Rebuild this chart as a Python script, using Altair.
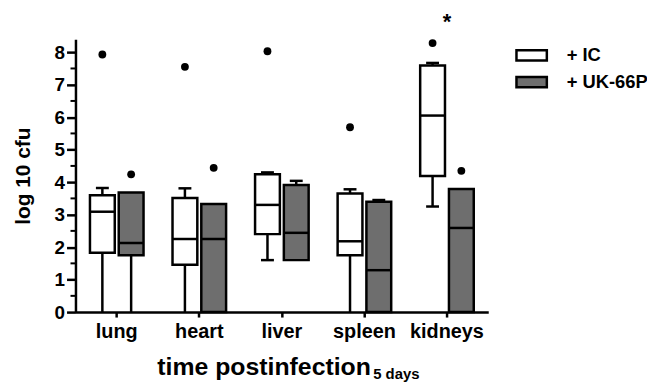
import altair as alt
import pandas as pd

organs = ["lung", "heart", "liver", "spleen", "kidneys"]
groups = ["+ IC", "+ UK-66P"]

ic_low = [0.0, 0.0, 1.60, 0.0, 3.25]
ic_q1 = [1.83, 1.46, 2.40, 1.75, 4.19]
ic_med = [3.09, 2.25, 3.30, 2.18, 6.05]
ic_q3 = [3.60, 3.51, 4.24, 3.65, 7.59]
ic_high = [3.82, 3.81, 4.30, 3.78, 7.67]
ic_out = [7.93, 7.55, 8.03, 5.69, 8.28]

uk_low = [0.0, 0.0, 1.60, 0.0, 0.0]
uk_q1 = [1.75, 0.0, 1.60, 0.0, 0.0]
uk_med = [2.13, 2.25, 2.44, 1.29, 2.59]
uk_q3 = [3.68, 3.33, 3.91, 3.40, 3.79]
uk_high = [3.68, 3.33, 4.04, 3.45, 3.79]
uk_out = [4.24, 4.44, None, None, 4.35]

y_ticks = [0, 1, 2, 3, 4, 5, 6, 7, 8]
y_minor = [0.5, 1.5, 2.5, 3.5, 4.5, 5.5, 6.5, 7.5]
signif_organ = ["kidneys"]
signif_y = [8.92]
signif_text = ["*"]

FONT = "Liberation Sans"
GRAY = "#6e6e6e"

rows = []
for g, lo, q1, md, q3, hi, out in [
    (groups[0], ic_low, ic_q1, ic_med, ic_q3, ic_high, ic_out),
    (groups[1], uk_low, uk_q1, uk_med, uk_q3, uk_high, uk_out),
]:
    for i, o in enumerate(organs):
        rows.append(dict(organ=o, group=g, low=lo[i], q1=q1[i], med=md[i],
                         q3=q3[i], high=hi[i], out=out[i]))
df = pd.DataFrame(rows)

caps = []
for r in rows:
    if r["high"] > r["q3"]:
        caps.append(dict(organ=r["organ"], group=r["group"], v=r["high"]))
    if r["low"] < r["q1"] and r["low"] > 0:
        caps.append(dict(organ=r["organ"], group=r["group"], v=r["low"]))
caps_df = pd.DataFrame(caps)
out_df = df[df["out"].notna()]
minor_df = pd.DataFrame({"v": y_minor})
sig_df = pd.DataFrame({"organ": signif_organ, "v": signif_y, "t": signif_text})

x_enc = alt.X("organ:N", sort=organs,
              scale=alt.Scale(domain=organs, paddingInner=0, paddingOuter=0),
              axis=alt.Axis(title="time postinfection", labelAngle=0, tickSize=5,
                            labelPadding=5, labelFontSize=20, labelFontWeight="bold",
                            labelFont=FONT, titleFont=FONT, titleFontSize=25,
                            titleFontWeight="bold", titleAlign="left", titleAnchor="start",
                            titleX=82, titleY=63, titleBaseline="alphabetic",
                            bandPosition=0.5, labelColor="black", titleColor="black"))
xo_enc = alt.XOffset("group:N", sort=groups,
                     scale=alt.Scale(domain=groups, paddingInner=0.138, paddingOuter=0.5035))
y_scale = alt.Scale(domain=[0, 8.4], nice=False, zero=True)
y_axis = alt.Axis(title="log 10 cfu", values=y_ticks, tickSize=9, labelPadding=2,
                  labelFontSize=19, labelFontWeight="bold", labelFont=FONT,
                  labelOverlap=False, labelBound=False, labelFlush=False,
                  titleFont=FONT, titleFontSize=21, titleFontWeight="bold",
                  titlePadding=21, grid=False, labelColor="black", titleColor="black")


def Y(field):
    return alt.Y(field, scale=y_scale, axis=y_axis)


base = alt.Chart(df)

whisk = base.mark_rule(color="black", strokeWidth=2.5).encode(
    x=x_enc, xOffset=xo_enc, y=Y("low:Q"), y2="high:Q")

boxes = base.mark_bar(stroke="black", strokeWidth=2.5, opacity=1).encode(
    x=x_enc, xOffset=xo_enc, y=Y("q1:Q"), y2="q3:Q",
    fill=alt.Fill("group:N", sort=groups,
                  scale=alt.Scale(domain=groups, range=["white", GRAY]),
                  legend=alt.Legend(title=None, orient="none", legendX=450.5, legendY=7,
                                    symbolType="M-2.55,-0.85H2.55V0.85H-2.55Z", symbolSize=144,
                                    symbolStrokeColor="black", symbolStrokeWidth=2.5,
                                    symbolOpacity=1, labelFont=FONT, labelFontSize=18.5,
                                    labelFontWeight="bold", labelColor="black",
                                    labelOffset=26, rowPadding=6, padding=0)))

medians = base.mark_tick(color="black", thickness=2.5, size=25, opacity=1).encode(
    x=x_enc, xOffset=xo_enc, y=Y("med:Q"))

cap_marks = alt.Chart(caps_df).mark_tick(color="black", thickness=2.5, size=13, opacity=1).encode(
    x=x_enc, xOffset=xo_enc, y=Y("v:Q"))

outliers = alt.Chart(out_df).mark_circle(color="black", size=62, opacity=1).encode(
    x=x_enc, xOffset=xo_enc, y=Y("out:Q"))

minor = alt.Chart(minor_df).mark_rule(color="black", strokeWidth=2).encode(
    y=Y("v:Q"), x=alt.value(-5), x2=alt.value(0))

sig = alt.Chart(sig_df).mark_text(font=FONT, fontSize=22, fontWeight="bold",
                                  baseline="middle", color="black").encode(
    x=x_enc, y=Y("v:Q"), text="t:N")

subscript = alt.Chart(pd.DataFrame({"t": ["5 days"]})).mark_text(
    font=FONT, fontSize=15, fontWeight="bold", align="left", baseline="alphabetic",
    color="black").encode(x=alt.value(300), y=alt.value(342), text="t:N")

chart = alt.layer(whisk, boxes, medians, cap_marks, outliers, minor, sig, subscript).properties(
    width=416, height=275,
    autosize=alt.AutoSizeParams(type="none"),
    padding={"left": 68, "top": 30, "right": 160, "bottom": 71},
).configure_view(stroke=None).configure_axis(
    domainColor="black", domainWidth=2.5, tickColor="black", tickWidth=2.5,
    labelOverlap=False
)

chart.save("out.html", embed_options={"renderer": "svg", "actions": False})
